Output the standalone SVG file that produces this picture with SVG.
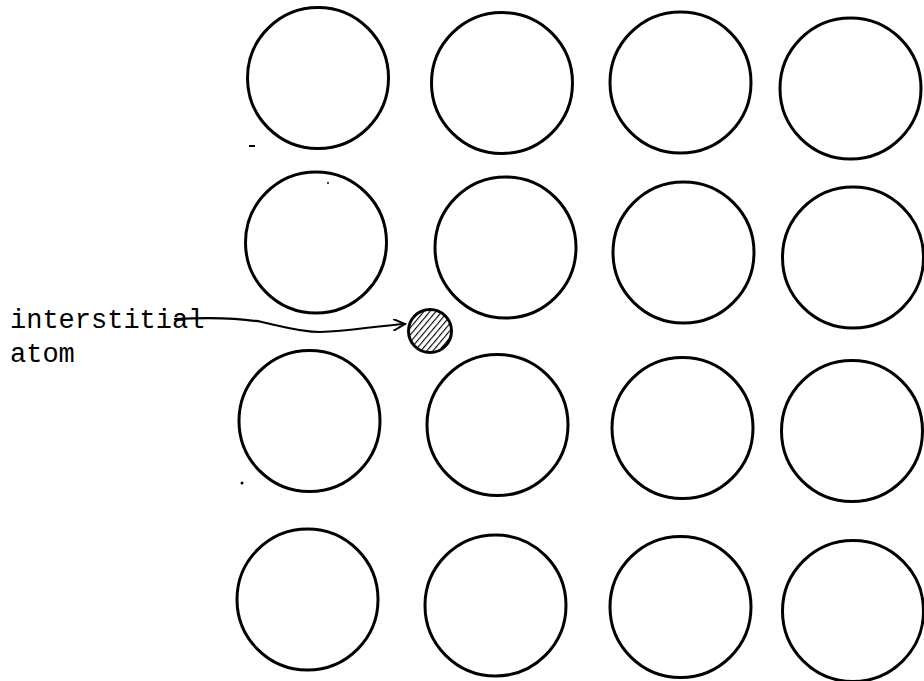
<svg xmlns="http://www.w3.org/2000/svg" width="924" height="681" viewBox="0 0 924 681">
<style>
.atom{fill:none;stroke:#000;stroke-width:3}
.lbl{font-family:"Liberation Mono","DejaVu Sans Mono",monospace;font-size:27px;fill:#000}
.conn{fill:none;stroke:#000;stroke-width:2.2;stroke-linecap:round}
</style>
<defs>
<pattern id="hatch" patternUnits="userSpaceOnUse" width="4.6" height="5" patternTransform="rotate(40)">
<line x1="0" y1="0" x2="0" y2="5" stroke="#000" stroke-width="2.2"/>
</pattern>
<marker id="openArrow" markerWidth="14" markerHeight="12" refX="12" refY="6" orient="auto" markerUnits="userSpaceOnUse">
<path d="M0,0 L12,6 L0,12" fill="none" stroke="#000" stroke-width="2"/>
</marker>
</defs>
<rect width="924" height="681" fill="#fff"/>
<g id="lattice">
<g id="a11"><circle class="atom" cx="318" cy="78" r="70.5"/></g>
<g id="a12"><circle class="atom" cx="502" cy="83" r="70.5"/></g>
<g id="a13"><circle class="atom" cx="680.5" cy="82.5" r="70.5"/></g>
<g id="a14"><circle class="atom" cx="850.5" cy="88.5" r="70.5"/></g>
<g id="a21"><circle class="atom" cx="316" cy="242.5" r="70.5"/></g>
<g id="a22"><circle class="atom" cx="505.5" cy="247.5" r="70.5"/></g>
<g id="a23"><circle class="atom" cx="683.5" cy="252.5" r="70.5"/></g>
<g id="a24"><circle class="atom" cx="853" cy="257.5" r="70.5"/></g>
<g id="a31"><circle class="atom" cx="309.5" cy="421" r="70.5"/></g>
<g id="a32"><circle class="atom" cx="497.5" cy="425" r="70.5"/></g>
<g id="a33"><circle class="atom" cx="682.5" cy="428" r="70.5"/></g>
<g id="a34"><circle class="atom" cx="852" cy="431" r="70.5"/></g>
<g id="a41"><circle class="atom" cx="307.5" cy="599.5" r="70.5"/></g>
<g id="a42"><circle class="atom" cx="495.5" cy="605.5" r="70.5"/></g>
<g id="a43"><circle class="atom" cx="680.5" cy="607" r="70.5"/></g>
<g id="a44"><circle class="atom" cx="853" cy="611" r="70.5"/></g>
</g>
<g id="interstitial">
<circle cx="430" cy="331" r="21.5" fill="url(#hatch)" stroke="#000" stroke-width="3"/>
</g>
<g id="label">
<text class="lbl" x="10" y="328">interstitial</text>
<text class="lbl" x="10" y="362">atom</text>
</g>
<g id="connectors">
<path class="conn" d="M175,319 C215,317 240,318 262,322 C285,327 300,332 320,332 C350,331 375,326 405,324" marker-end="url(#openArrow)"/>
</g>
<g id="marks" fill="#000">
<rect x="249" y="145" width="6" height="2"/>
<circle cx="328" cy="183" r="1"/>
<circle cx="242" cy="483" r="1.5"/>
</g>
</svg>
